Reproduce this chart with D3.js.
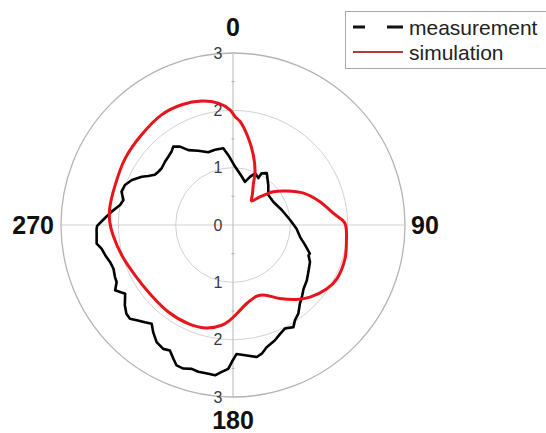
<!DOCTYPE html>
<html>
<head>
<meta charset="utf-8">
<script src="https://cdn.jsdelivr.net/npm/d3@7"></script>
<style>
  html, body { margin: 0; padding: 0; background: #fff; }
  svg { display: block; font-family: "Liberation Sans", Arial, Helvetica, sans-serif; }
</style>
</head>
<body>
<script>
// Simulated pattern: angle (deg, clockwise from 0 at top) and radial value
const simAngles = [1.1, 3.9, 10.0, 16.2, 22.4, 26.9, 32.5, 37.5, 43.7, 50.4, 57.7, 65.7, 75.0, 83.3, 89.0,
  98.5, 106.7, 117.4, 124.2, 133.1, 139.4, 147.5, 156.5, 161.5, 170.1, 177.6, 181.8, 186.4, 195.2,
  204.4, 216.6, 229.2, 242.8, 254.8, 265.1, 271.4, 277.7, 288.7, 301.7, 314.6, 327.0, 336.9, 345.8,
  353.1, 358.5];
const simValues = [1.89, 1.81, 1.54, 1.27, 1.01, 0.78, 0.63, 0.53, 0.68, 0.91, 1.11, 1.35, 1.57, 1.76, 1.95,
  2.00, 2.04, 2.04, 1.98, 1.84, 1.71, 1.52, 1.33, 1.31, 1.39, 1.55, 1.66, 1.76, 1.86,
  1.89, 1.89, 1.88, 1.92, 2.01, 2.10, 2.15, 2.17, 2.17, 2.21, 2.24, 2.29, 2.28, 2.23,
  2.14, 2.01];

// Measured pattern
const measAngles = [2.0, 10.2, 15.5, 19.4, 23.1, 28.4, 29.0, 33.1, 41.4, 49.6, 60.0, 72.9, 85.0, 93.3,
  100.2, 105.7, 110.4, 111.9, 115.7, 122.0, 126.9, 132.2, 136.3, 139.6, 143.6, 146.9, 149.4, 153.4,
  156.6, 160.0, 164.6, 167.4, 169.8, 174.0, 178.4, 180.5, 181.9, 184.4, 186.8, 189.4, 193.3, 196.0,
  199.1, 201.9, 204.1, 206.7, 209.4, 213.1, 216.7, 219.5, 222.2, 225.3, 227.7, 230.2, 233.4, 237.5,
  239.3, 241.0, 243.9, 246.2, 249.9, 253.3, 256.7, 259.8, 262.2, 268.4, 269.6, 273.0, 276.3, 280.0,
  282.8, 286.7, 290.3, 294.0, 297.9, 300.0, 302.7, 305.5, 308.5, 312.9, 316.5, 320.1, 322.7, 325.9,
  329.2, 334.9, 341.2, 346.5, 352.8, 356.2];
const measValues = [1.02, 0.86, 0.78, 0.89, 0.98, 0.93, 1.03, 1.08, 0.93, 0.81, 0.81, 0.89, 1.00, 1.11,
  1.19, 1.31, 1.43, 1.42, 1.49, 1.55, 1.61, 1.66, 1.74, 1.80, 1.92, 1.98, 2.07, 2.02,
  2.07, 2.14, 2.21, 2.30, 2.34, 2.29, 2.25, 2.39, 2.51, 2.57, 2.64, 2.63, 2.63, 2.61,
  2.65, 2.64, 2.55, 2.45, 2.48, 2.44, 2.33, 2.23, 2.29, 2.36, 2.43, 2.42, 2.35, 2.23,
  2.29, 2.35, 2.26, 2.25, 2.22, 2.24, 2.29, 2.33, 2.40, 2.38, 2.37, 2.24, 2.13, 2.00,
  1.96, 2.03, 2.01, 1.93, 1.80, 1.71, 1.62, 1.60, 1.59, 1.62, 1.64, 1.67, 1.72, 1.65,
  1.52, 1.43, 1.34, 1.35, 1.35, 1.22];

const radialTicks = [1, 2, 3];
const radialLabels = [3, 2, 1, 0, 1, 2, 3];
const angleTicks = [0, 90, 180, 270];
const seriesNames = ["measurement", "simulation"];

const W = 546, H = 433;
const cx = 233, cy = 225, R = 172;

const svg = d3.select("body").append("svg").attr("width", W).attr("height", H);

const rScale = d3.scaleLinear().domain([0, 3]).range([0, R]);
const aScale = d3.scaleLinear().domain([0, 360]).range([0, 2 * Math.PI]);

const g = svg.append("g").attr("transform", `translate(${cx},${cy})`);

// grid rings
g.selectAll("circle.ring").data(radialTicks).join("circle")
  .attr("class", "ring")
  .attr("r", d => rScale(d))
  .attr("fill", "none")
  .attr("stroke", d => d === 3 ? "#b4b4b4" : "#d2d2d2")
  .attr("stroke-width", d => d === 3 ? 1.3 : 1);

// cross axes
g.append("line").attr("x1", -rScale(3)).attr("x2", rScale(3)).attr("y1", 0).attr("y2", 0)
  .attr("stroke", "#cfcfcf").attr("stroke-width", 1);
g.append("line").attr("x1", 0).attr("x2", 0).attr("y1", -rScale(3)).attr("y2", rScale(3))
  .attr("stroke", "#c4c4c4").attr("stroke-width", 1.2);

// minor ticks along the vertical axis
const minor = d3.range(-2.5, 3, 1);
g.selectAll("line.minor").data(minor).join("line")
  .attr("class", "minor")
  .attr("x1", -1.5).attr("x2", 1.5)
  .attr("y1", d => rScale(d)).attr("y2", d => rScale(d))
  .attr("stroke", "#aaa").attr("stroke-width", 1);

// radial tick labels
g.selectAll("text.rlab").data(radialLabels).join("text")
  .attr("class", "rlab")
  .attr("x", -15)
  .attr("y", (d, i) => i < 3 ? -rScale(d) : rScale(d))
  .attr("dy", "0.36em")
  .attr("text-anchor", "middle")
  .attr("font-size", 16)
  .attr("fill", "#3a3a3a")
  .text(d => d);

// angle labels
const angPos = {
  0:   { x: 0, y: -R - 26, anchor: "middle" },
  90:  { x: R + 6, y: 0, anchor: "start" },
  180: { x: 0, y: R + 23, anchor: "middle" },
  270: { x: -R - 7, y: 0, anchor: "end" }
};
g.selectAll("text.alab").data(angleTicks).join("text")
  .attr("class", "alab")
  .attr("x", d => angPos[d].x)
  .attr("y", d => angPos[d].y)
  .attr("dy", "0.36em")
  .attr("text-anchor", d => angPos[d].anchor)
  .attr("font-size", 25)
  .attr("font-weight", "bold")
  .attr("fill", "#111")
  .text(d => d);

// series
const simData = simAngles.map((a, i) => [aScale(a), rScale(simValues[i])]);
const measData = measAngles.map((a, i) => [aScale(a), rScale(measValues[i])]);

g.append("path")
  .datum(measData)
  .attr("d", d3.lineRadial().curve(d3.curveLinearClosed)(measData))
  .attr("fill", "none")
  .attr("stroke", "#000")
  .attr("stroke-width", 2.6)
  .attr("stroke-linejoin", "round");

g.append("path")
  .datum(simData)
  .attr("d", d3.lineRadial().curve(d3.curveCatmullRomClosed.alpha(0.5))(simData))
  .attr("fill", "none")
  .attr("stroke", "#e8141b")
  .attr("stroke-width", 3)
  .attr("stroke-linejoin", "round");

// legend
const leg = svg.append("g");
leg.append("rect")
  .attr("x", 345.5).attr("y", 11.5).attr("width", 210).attr("height", 57)
  .attr("fill", "#fff").attr("stroke", "#a8a8a8").attr("stroke-width", 1);
const legY = [27, 52];
const legStyle = [
  { stroke: "#111", width: 3, dash: "12,22,16" },
  { stroke: "#b8383a", width: 2, dash: null }
];
seriesNames.forEach((name, i) => {
  leg.append("line")
    .attr("x1", 353).attr("x2", 403).attr("y1", legY[i]).attr("y2", legY[i])
    .attr("stroke", legStyle[i].stroke)
    .attr("stroke-width", legStyle[i].width)
    .attr("stroke-dasharray", legStyle[i].dash);
  leg.append("text")
    .attr("x", 409).attr("y", legY[i]).attr("dy", "0.36em")
    .attr("font-size", 21).attr("fill", "#222")
    .text(name);
});
</script>
</body>
</html>
